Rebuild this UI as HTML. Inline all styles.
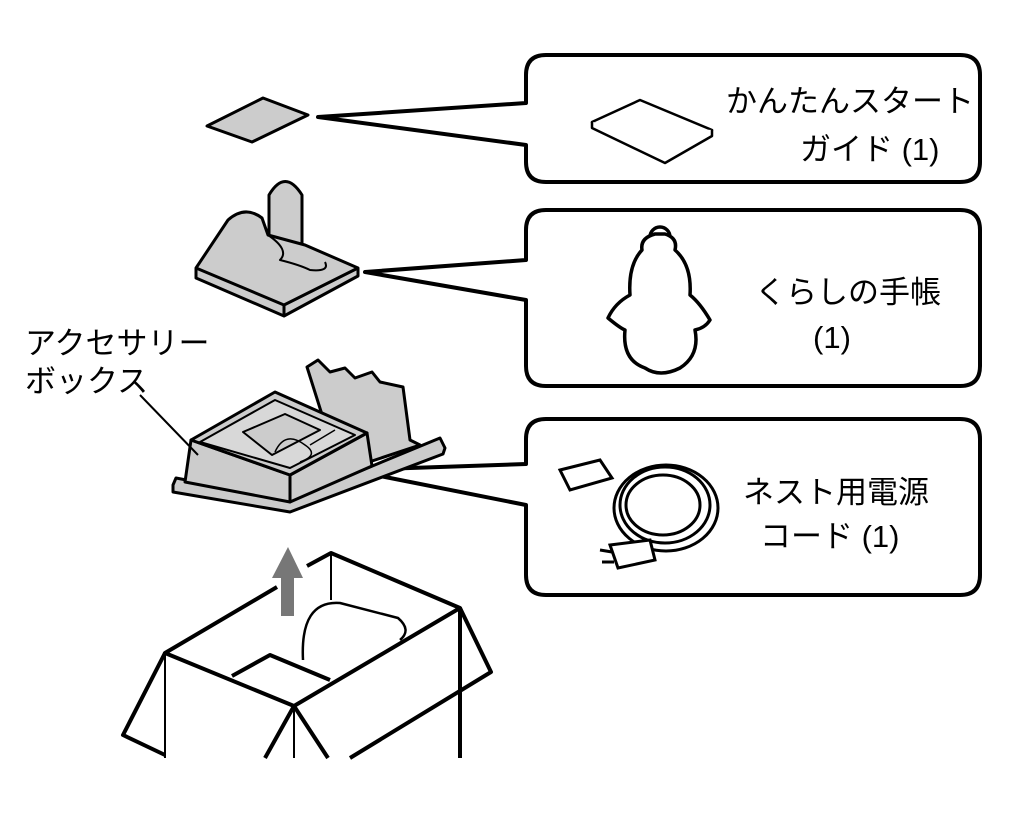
<!DOCTYPE html>
<html><head><meta charset="utf-8"><style>
html,body{margin:0;padding:0;background:#fff}
svg{display:block}
text{font-family:"Liberation Sans","Noto Sans CJK JP",sans-serif;font-size:31px;fill:#000}
</style></head><body>
<svg width="1024" height="820" viewBox="0 0 1024 820" xmlns="http://www.w3.org/2000/svg">
<g fill="none" stroke="#000" stroke-width="4" stroke-linejoin="round">
<path d="M546,55 H960 Q980,55 980,75 V162 Q980,182 960,182 H546 Q526,182 526,162 V145 L318,117 L526,103 V75 Q526,55 546,55 Z" fill="#fff"/>
<path d="M546,210 H960 Q980,210 980,230 V366 Q980,386 960,386 H546 Q526,386 526,366 V300 L365,272 L526,260 V230 Q526,210 546,210 Z" fill="#fff"/>
<path d="M546,419 H960 Q980,419 980,439 V575 Q980,595 960,595 H546 Q526,595 526,575 V505 L350,470 L526,464 V439 Q526,419 546,419 Z" fill="#fff"/>
</g>
<polygon points="207,126 263,98 308,115 252,142" fill="#ccc" stroke="#000" stroke-width="3" stroke-linejoin="round"/>
<g fill="#ccc" stroke="#000" stroke-width="3" stroke-linejoin="round">
<path d="M269,260 V195 Q285,168 302,195 V245 Z"/>
<path d="M196,268 L228,220 Q245,205 262,218 L268,235 L305,245 L358,268 V276 L284,316 L196,278 Z"/>
<path d="M196,268 L284,305 L358,268" fill="none"/>
<path d="M284,305 V316" fill="none"/>
<path d="M268,235 Q290,250 280,260 Q300,265 310,270 Q330,272 325,262" fill="none" stroke-width="2"/>
</g>
<!-- accessory tray -->
<g fill="#ccc" stroke="#000" stroke-width="3" stroke-linejoin="round">
<path d="M173,485 L176,478 L290,500 L440,438 L445,448 L443,454 L290,512 L173,492 Z"/>
<path d="M307,367 L318,360 L330,372 L345,368 L355,378 L372,372 L380,382 L403,387 L410,440 L420,445 L360,465 L330,440 Z"/>
<path d="M191,440 L185,482 L290,502 L290,475 Z"/>
<path d="M290,475 L367,433 L372,466 L290,502 Z"/>
<path d="M191,440 L275,392 L367,433 L290,475 Z"/>
<path d="M200,442 L275,400 L355,435 L290,468 Z" fill="#d8d8d8" stroke-width="2"/>
<path d="M243,432 L285,414 L320,430 L272,455 Z" fill="#ccc" stroke-width="2"/>
</g>
<g fill="none" stroke="#000" stroke-width="1.5">
<path d="M275,452 Q285,430 305,445 Q320,455 300,462"/>
<path d="M310,445 L335,430"/>
</g>
<path d="M140,395 L198,455" stroke="#000" stroke-width="2"/>
<polygon points="288,547 303,578 294,578 294,616 281,616 281,578 272,578" fill="#777"/>
<g fill="none" stroke="#000" stroke-width="4" stroke-linejoin="round">
<path d="M277,587 L165,653 L294,706 L460,608 L331,553 L307,566"/>
<path d="M165,653 L123,735 L165,755"/>
<path d="M460,608 L491,672 L350,758"/>
<path d="M294,706 L265,758 M294,706 L328,758"/>
<path d="M232,676 L270,655 L330,680"/>
<path d="M303,660 Q300,600 340,603 L398,618 Q412,630 400,640" stroke-width="2.5"/>
</g>
<g stroke="#000" stroke-width="2">
<line x1="165" y1="653" x2="165" y2="758"/>
<line x1="294" y1="706" x2="294" y2="758"/>
<line x1="460" y1="608" x2="460" y2="758" stroke-width="4"/>
<line x1="331" y1="553" x2="331" y2="600"/>
</g>
<g fill="#fff" stroke="#000" stroke-width="2.5" stroke-linejoin="round">
<path d="M592,122 L640,100 L712,130 L665,157 Z"/>
<path d="M592,122 L592,128 L665,163 L712,136 V130"/>
</g>
<g fill="#fff" stroke="#000" stroke-width="3.5" stroke-linejoin="round">
<circle cx="660" cy="237" r="10"/>
<path d="M655,234 Q640,238 642,250 Q628,265 630,295 Q615,303 608,318 Q620,328 625,330 Q622,360 645,368 Q660,378 680,368 Q700,355 695,330 Q705,328 710,320 Q700,303 690,295 Q692,265 675,250 Q678,238 665,234 Z"/>
</g>
<g fill="none" stroke="#000" stroke-width="3">
<ellipse cx="665" cy="505" rx="45" ry="38"/>
<ellipse cx="663" cy="505" rx="37" ry="30"/>
<ellipse cx="666" cy="508" rx="52" ry="43"/>
<path d="M560,470 L600,460 L612,478 L570,490 Z" fill="#fff"/>
<path d="M610,545 L650,540 L655,560 L618,568 Z" fill="#fff"/>
<path d="M612,552 L600,550 M614,562 L602,562"/>
</g>
<text x="726" y="112">かんたんスタート</text>
<text x="800" y="160">ガイド (1)</text>
<text x="755" y="303">くらしの手帳</text>
<text x="813" y="348">(1)</text>
<text x="743" y="503">ネスト用電源</text>
<text x="760" y="547">コード (1)</text>
<text x="25" y="354">アクセサリー</text>
<text x="25" y="392">ボックス</text>
</svg>
</body></html>
